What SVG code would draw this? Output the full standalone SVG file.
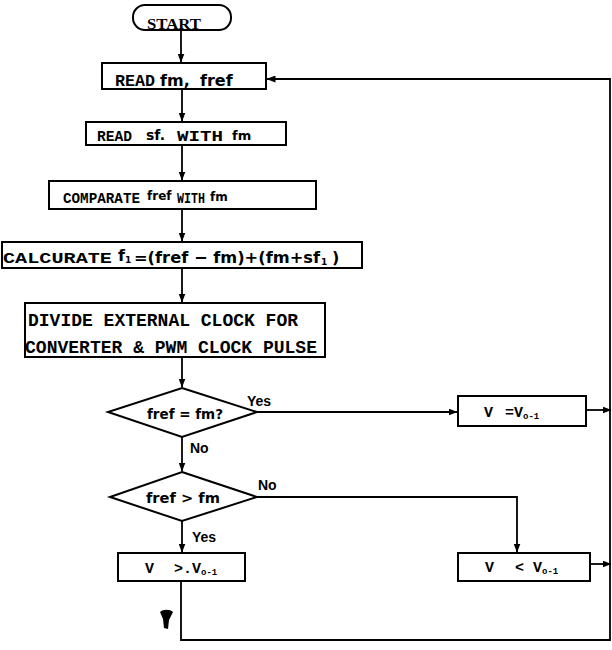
<svg xmlns="http://www.w3.org/2000/svg" width="612" height="650" viewBox="0 0 612 650">
<defs>
<marker id="ah" markerWidth="9" markerHeight="7" refX="8.5" refY="3.5" orient="auto" markerUnits="userSpaceOnUse">
<path d="M0,0 L9,3.5 L0,7 z" fill="#000"/>
</marker>
<style>
.box{fill:#fff;stroke:#000;stroke-width:2}
.ln{fill:none;stroke:#000;stroke-width:1.8}
.tw{font-family:"Liberation Mono",monospace;font-weight:bold;fill:#000}
.sr{font-family:"Liberation Serif",serif;font-weight:bold;fill:#000}
.hw{font-family:"DejaVu Sans","Liberation Sans",sans-serif;font-weight:bold;fill:#000}
.lb{font-family:"Liberation Sans","DejaVu Sans",sans-serif;font-weight:bold;font-size:14px;fill:#000}
</style>
</defs>
<rect width="612" height="650" fill="#fff"/>
<g id="connectors">
<path class="ln" d="M181,30 V62" marker-end="url(#ah)"/>
<path class="ln" d="M182,89 V121" marker-end="url(#ah)"/>
<path class="ln" d="M182,145 V180" marker-end="url(#ah)"/>
<path class="ln" d="M182,210 V241" marker-end="url(#ah)"/>
<path class="ln" d="M182,268 V302" marker-end="url(#ah)"/>
<path class="ln" d="M182,357 V387" marker-end="url(#ah)"/>
<path class="ln" d="M257,412 H457" marker-end="url(#ah)"/>
<path class="ln" d="M182,437 V471" marker-end="url(#ah)"/>
<path class="ln" d="M257,497 H517 V552" marker-end="url(#ah)"/>
<path class="ln" d="M182,521 V552" marker-end="url(#ah)"/>
<path class="ln" d="M181,581 V640 H610 V79 H267" marker-end="url(#ah)"/>
<path class="ln" d="M586,410 H611" marker-end="url(#ah)"/>
<path class="ln" d="M590,564 H611" marker-end="url(#ah)"/>
<path d="M160,612 C163,609 170,609 173,612 L169,620 L168,629 L164,628 L163,619 Z" fill="#000"/>
</g>
<g id="start">
<rect class="box" x="133" y="5" width="98" height="25" rx="12" ry="12"/>
<text class="sr" x="147" y="29" font-size="14" textLength="54" lengthAdjust="spacingAndGlyphs">START</text>
</g>
<g id="read-fm-fref">
<rect class="box" x="102" y="63" width="164" height="26"/>
<text class="tw" x="115" y="86" font-size="16" textLength="40" lengthAdjust="spacingAndGlyphs">READ</text>
<text class="hw" x="160" y="86" font-size="16">fm,</text>
<text class="hw" x="200" y="86" font-size="16">fref</text>
</g>
<g id="read-sf">
<rect class="box" x="86" y="122" width="200" height="23"/>
<text class="tw" x="97" y="141" font-size="14" textLength="35" lengthAdjust="spacingAndGlyphs">READ</text>
<text class="hw" x="146" y="140" font-size="14">sf.</text>
<text class="tw" x="177" y="141" font-size="14" textLength="46" lengthAdjust="spacingAndGlyphs">WITH</text>
<text class="hw" x="232" y="140" font-size="13">fm</text>
</g>
<g id="comparate">
<rect class="box" x="49" y="181" width="267" height="28"/>
<text class="tw" x="63" y="203" font-size="14" textLength="77" lengthAdjust="spacingAndGlyphs">COMPARATE</text>
<text class="hw" x="147" y="200" font-size="12">fref</text>
<text class="tw" x="177" y="203" font-size="14" textLength="28" lengthAdjust="spacingAndGlyphs">WITH</text>
<text class="hw" x="210" y="201" font-size="12">fm</text>
</g>
<g id="calcurate">
<rect class="box" x="2" y="242" width="360" height="26"/>
<text class="tw" x="3" y="263" font-size="14" textLength="109" lengthAdjust="spacingAndGlyphs">CALCURATE</text>
<text class="hw" x="118" y="261" font-size="16">f<tspan font-size="9" dy="2">1</tspan></text>
<text class="hw" x="134" y="263" font-size="16" textLength="186" lengthAdjust="spacingAndGlyphs">=(fref − fm)+(fm+sf</text>
<text class="hw" x="321" y="265" font-size="9">1</text>
<text class="hw" x="332" y="263" font-size="16">)</text>
</g>
<g id="divide">
<rect class="box" x="25" y="303" width="300" height="54"/>
<text class="tw" x="28" y="326" font-size="18" textLength="270" lengthAdjust="spacingAndGlyphs">DIVIDE EXTERNAL CLOCK FOR</text>
<text class="tw" x="25" y="353" font-size="18" textLength="292" lengthAdjust="spacingAndGlyphs">CONVERTER &amp; PWM CLOCK PULSE</text>
</g>
<g id="decision-equal">
<polygon class="box" points="182,388 257,412 182,437 108,412"/>
<text class="hw" x="147" y="419" font-size="14" textLength="76" lengthAdjust="spacingAndGlyphs">fref = fm?</text>
<text class="lb" x="247" y="406">Yes</text>
<text class="lb" x="190" y="453">No</text>
</g>
<g id="v-equal">
<rect class="box" x="458" y="396" width="128" height="30"/>
<text class="tw" x="484" y="417" font-size="15">V</text>
<text class="tw" x="505" y="417" font-size="15">=V<tspan font-size="9" dy="2">o-1</tspan></text>
</g>
<g id="decision-greater">
<polygon class="box" points="182,472 257,497 182,521 110,497"/>
<text class="hw" x="146" y="503" font-size="14" textLength="74" lengthAdjust="spacingAndGlyphs">fref &gt; fm</text>
<text class="lb" x="258" y="490">No</text>
<text class="lb" x="192" y="542">Yes</text>
</g>
<g id="v-greater">
<rect class="box" x="118" y="553" width="127" height="28"/>
<text class="tw" x="145" y="573" font-size="15">V</text>
<text class="tw" x="174" y="573" font-size="15">&gt;.V<tspan font-size="9" dy="2">o-1</tspan></text>
</g>
<g id="v-less">
<rect class="box" x="458" y="553" width="132" height="28"/>
<text class="tw" x="485" y="572" font-size="15">V</text>
<text class="tw" x="515" y="572" font-size="15">&lt; V<tspan font-size="9" dy="2">o-1</tspan></text>
</g>
</svg>
